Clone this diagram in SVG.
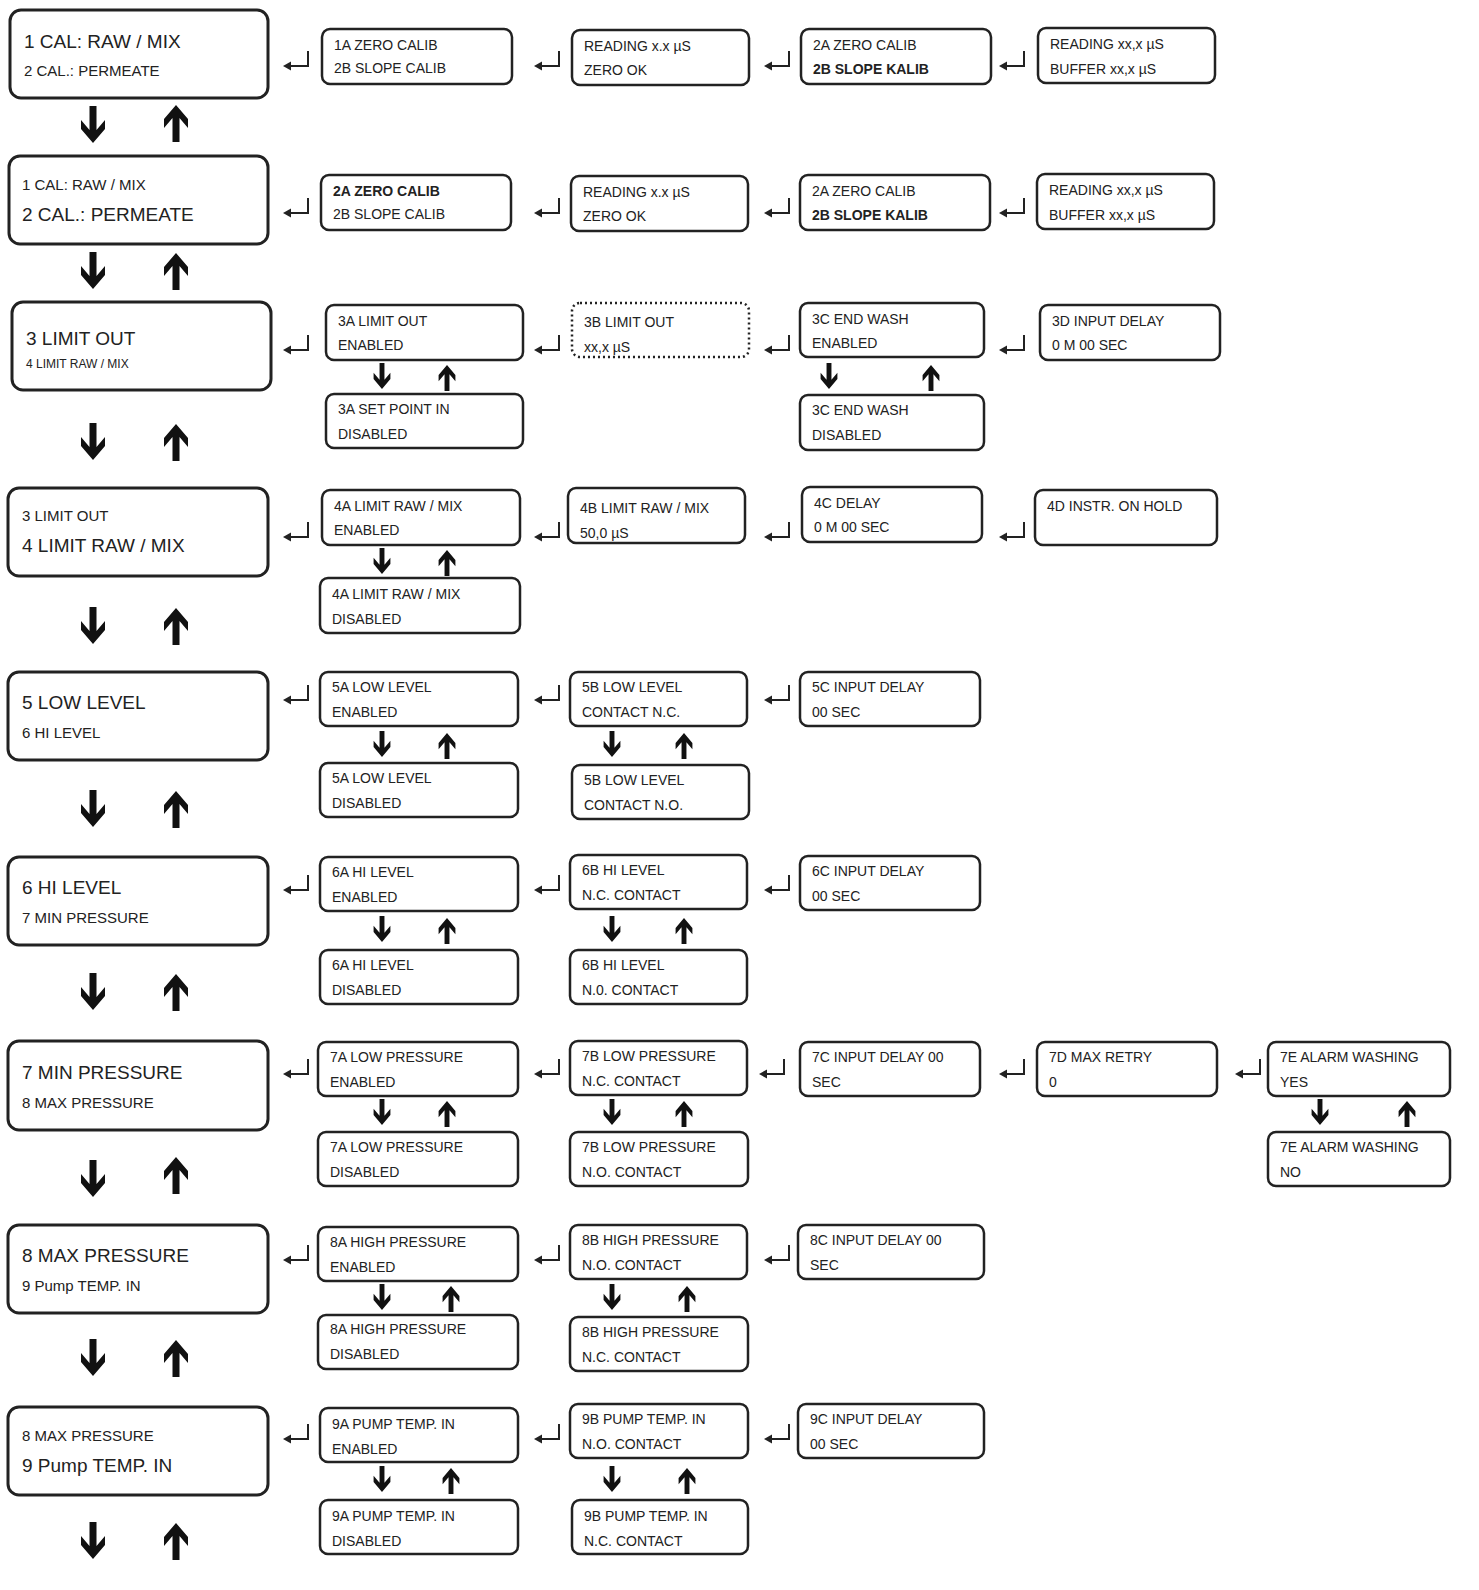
<svg xmlns="http://www.w3.org/2000/svg" width="1479" height="1590" viewBox="0 0 1479 1590">
<style>
.m{fill:#fff;stroke:#222;stroke-width:3}
.b{fill:#fff;stroke:#222;stroke-width:2.5}
.d{fill:#fff;stroke:#222;stroke-width:2.5;stroke-dasharray:2 3}
text{font-family:"Liberation Sans",Arial,sans-serif;fill:#222}
.L{font-size:19px}
.S{font-size:15px}
.t{font-size:14px}
</style>
<defs>
<path id="dn" d="M-3.5,-20 H3.5 V4 L12,-6 V3 L0,17 L-12,3 V-6 L-3.5,4 Z" fill="#111"/>
<path id="up" d="M-3.5,20 H3.5 V-4 L12,6 V-3 L0,-17 L-12,-3 V6 L-3.5,-4 Z" fill="#111"/>
<g id="en"><path d="M12,-9 V6 H-8" fill="none" stroke="#222" stroke-width="2"/><path d="M-13,6 L-5,1.5 V10.5 Z" fill="#222"/></g>
</defs>

<g id="connectors">
<!-- main arrows -->
<use href="#dn" x="93" y="126"/><use href="#up" x="176" y="122"/>
<use href="#dn" x="93" y="272"/><use href="#up" x="176" y="270"/>
<use href="#dn" x="93" y="443"/><use href="#up" x="176" y="441"/>
<use href="#dn" x="93" y="627"/><use href="#up" x="176" y="625"/>
<use href="#dn" x="93" y="810"/><use href="#up" x="176" y="808"/>
<use href="#dn" x="93" y="993"/><use href="#up" x="176" y="991"/>
<use href="#dn" x="93" y="1180"/><use href="#up" x="176" y="1174"/>
<use href="#dn" x="93" y="1359"/><use href="#up" x="176" y="1357"/>
<use href="#dn" x="93" y="1542"/><use href="#up" x="176" y="1540"/>
<!-- small arrows -->
<g transform="translate(382,377) scale(0.7)"><use href="#dn"/></g><g transform="translate(447,377) scale(0.7)"><use href="#up"/></g>
<g transform="translate(829,377) scale(0.7)"><use href="#dn"/></g><g transform="translate(931,377) scale(0.7)"><use href="#up"/></g>
<g transform="translate(382,562) scale(0.7)"><use href="#dn"/></g><g transform="translate(447,562) scale(0.7)"><use href="#up"/></g>
<g transform="translate(382,745) scale(0.7)"><use href="#dn"/></g><g transform="translate(447,745) scale(0.7)"><use href="#up"/></g>
<g transform="translate(612,745) scale(0.7)"><use href="#dn"/></g><g transform="translate(684,745) scale(0.7)"><use href="#up"/></g>
<g transform="translate(382,930) scale(0.7)"><use href="#dn"/></g><g transform="translate(447,930) scale(0.7)"><use href="#up"/></g>
<g transform="translate(612,930) scale(0.7)"><use href="#dn"/></g><g transform="translate(684,930) scale(0.7)"><use href="#up"/></g>
<g transform="translate(382,1113) scale(0.7)"><use href="#dn"/></g><g transform="translate(447,1113) scale(0.7)"><use href="#up"/></g>
<g transform="translate(612,1113) scale(0.7)"><use href="#dn"/></g><g transform="translate(684,1113) scale(0.7)"><use href="#up"/></g>
<g transform="translate(1320,1113) scale(0.7)"><use href="#dn"/></g><g transform="translate(1407,1113) scale(0.7)"><use href="#up"/></g>
<g transform="translate(382,1298) scale(0.7)"><use href="#dn"/></g><g transform="translate(451,1298) scale(0.7)"><use href="#up"/></g>
<g transform="translate(612,1298) scale(0.7)"><use href="#dn"/></g><g transform="translate(687,1298) scale(0.7)"><use href="#up"/></g>
<g transform="translate(382,1480) scale(0.7)"><use href="#dn"/></g><g transform="translate(451,1480) scale(0.7)"><use href="#up"/></g>
<g transform="translate(612,1480) scale(0.7)"><use href="#dn"/></g><g transform="translate(687,1480) scale(0.7)"><use href="#up"/></g>
<!-- enter symbols -->
<use href="#en" x="296" y="60"/><use href="#en" x="547" y="60"/><use href="#en" x="777" y="60"/><use href="#en" x="1012" y="60"/>
<use href="#en" x="296" y="207"/><use href="#en" x="547" y="207"/><use href="#en" x="777" y="207"/><use href="#en" x="1012" y="207"/>
<use href="#en" x="296" y="344"/><use href="#en" x="547" y="344"/><use href="#en" x="777" y="344"/><use href="#en" x="1012" y="344"/>
<use href="#en" x="296" y="531"/><use href="#en" x="547" y="531"/><use href="#en" x="777" y="531"/><use href="#en" x="1012" y="531"/>
<use href="#en" x="296" y="694"/><use href="#en" x="547" y="694"/><use href="#en" x="777" y="694"/>
<use href="#en" x="296" y="884"/><use href="#en" x="547" y="884"/><use href="#en" x="777" y="884"/>
<use href="#en" x="296" y="1068"/><use href="#en" x="547" y="1068"/><use href="#en" x="772" y="1068"/><use href="#en" x="1012" y="1068"/><use href="#en" x="1248" y="1068"/>
<use href="#en" x="296" y="1254"/><use href="#en" x="547" y="1254"/><use href="#en" x="777" y="1254"/>
<use href="#en" x="296" y="1433"/><use href="#en" x="547" y="1433"/><use href="#en" x="777" y="1433"/>
</g>

<!-- Row 1 -->
<g id="m1"><rect class="m" x="10" y="10" width="258" height="88" rx="11"/><text class="L" x="24" y="48">1 CAL: RAW / MIX</text><text class="S" x="24" y="76">2 CAL.: PERMEATE</text></g>
<g id="n1a"><rect class="b" x="322" y="29" width="190" height="55" rx="8"/><text class="t" x="334" y="50">1A ZERO CALIB</text><text class="t" x="334" y="73">2B SLOPE CALIB</text></g>
<g id="n1b"><rect class="b" x="572" y="30" width="177" height="55" rx="8"/><text class="t" x="584" y="51">READING x.x µS</text><text class="t" x="584" y="75">ZERO OK</text></g>
<g id="n1c"><rect class="b" x="801" y="29" width="190" height="55" rx="8"/><text class="t" x="813" y="50">2A ZERO CALIB</text><text class="t" x="813" y="74" font-weight="bold">2B SLOPE KALIB</text></g>
<g id="n1d"><rect class="b" x="1038" y="28" width="177" height="55" rx="8"/><text class="t" x="1050" y="49">READING xx,x µS</text><text class="t" x="1050" y="74">BUFFER xx,x µS</text></g>

<!-- Row 2 -->
<g id="m2"><rect class="m" x="9" y="156" width="259" height="88" rx="11"/><text class="S" x="22" y="190">1 CAL: RAW / MIX</text><text class="L" x="22" y="221">2 CAL.: PERMEATE</text></g>
<g id="n2a"><rect class="b" x="321" y="175" width="190" height="55" rx="8"/><text class="t" x="333" y="196" font-weight="bold">2A ZERO CALIB</text><text class="t" x="333" y="219">2B SLOPE CALIB</text></g>
<g id="n2b"><rect class="b" x="571" y="176" width="177" height="55" rx="8"/><text class="t" x="583" y="197">READING x.x µS</text><text class="t" x="583" y="221">ZERO OK</text></g>
<g id="n2c"><rect class="b" x="800" y="175" width="190" height="55" rx="8"/><text class="t" x="812" y="196">2A ZERO CALIB</text><text class="t" x="812" y="220" font-weight="bold">2B SLOPE KALIB</text></g>
<g id="n2d"><rect class="b" x="1037" y="174" width="177" height="55" rx="8"/><text class="t" x="1049" y="195">READING xx,x µS</text><text class="t" x="1049" y="220">BUFFER xx,x µS</text></g>

<!-- Row 3 -->
<g id="m3"><rect class="m" x="12" y="302" width="259" height="88" rx="11"/><text class="L" x="26" y="345">3 LIMIT OUT</text><text x="26" y="368" font-size="12">4 LIMIT RAW / MIX</text></g>
<g id="n3a"><rect class="b" x="326" y="305" width="197" height="55" rx="8"/><text class="t" x="338" y="326">3A LIMIT OUT</text><text class="t" x="338" y="350">ENABLED</text></g>
<g id="n3b"><rect class="d" x="572" y="303" width="177" height="54" rx="8"/><text class="t" x="584" y="327">3B LIMIT OUT</text><text class="t" x="584" y="352">xx,x µS</text></g>
<g id="n3c"><rect class="b" x="800" y="303" width="184" height="54" rx="8"/><text class="t" x="812" y="324">3C END WASH</text><text class="t" x="812" y="348">ENABLED</text></g>
<g id="n3d"><rect class="b" x="1040" y="305" width="180" height="55" rx="8"/><text class="t" x="1052" y="326">3D INPUT DELAY</text><text class="t" x="1052" y="350">0 M 00 SEC</text></g>
<g id="n3a2"><rect class="b" x="326" y="394" width="197" height="54" rx="8"/><text class="t" x="338" y="414">3A SET POINT IN</text><text class="t" x="338" y="439">DISABLED</text></g>
<g id="n3c2"><rect class="b" x="800" y="395" width="184" height="55" rx="8"/><text class="t" x="812" y="415">3C END WASH</text><text class="t" x="812" y="440">DISABLED</text></g>

<!-- Row 4 -->
<g id="m4"><rect class="m" x="8" y="488" width="260" height="88" rx="11"/><text class="S" x="22" y="521">3 LIMIT OUT</text><text class="L" x="22" y="552">4 LIMIT RAW / MIX</text></g>
<g id="n4a"><rect class="b" x="322" y="490" width="198" height="55" rx="8"/><text class="t" x="334" y="511">4A LIMIT RAW / MIX</text><text class="t" x="334" y="535">ENABLED</text></g>
<g id="n4b"><rect class="b" x="568" y="488" width="177" height="55" rx="8"/><text class="t" x="580" y="513">4B LIMIT RAW / MIX</text><text class="t" x="580" y="538">50,0 µS</text></g>
<g id="n4c"><rect class="b" x="802" y="487" width="180" height="55" rx="8"/><text class="t" x="814" y="508">4C DELAY</text><text class="t" x="814" y="532">0 M 00 SEC</text></g>
<g id="n4d"><rect class="b" x="1035" y="490" width="182" height="55" rx="8"/><text class="t" x="1047" y="511">4D INSTR. ON HOLD</text></g>
<g id="n4a2"><rect class="b" x="320" y="578" width="200" height="55" rx="8"/><text class="t" x="332" y="599">4A LIMIT RAW / MIX</text><text class="t" x="332" y="624">DISABLED</text></g>

<!-- Row 5 -->
<g id="m5"><rect class="m" x="8" y="672" width="260" height="88" rx="11"/><text class="L" x="22" y="709">5 LOW LEVEL</text><text class="S" x="22" y="738">6 HI LEVEL</text></g>
<g id="n5a"><rect class="b" x="320" y="672" width="198" height="54" rx="8"/><text class="t" x="332" y="692">5A LOW LEVEL</text><text class="t" x="332" y="717">ENABLED</text></g>
<g id="n5b"><rect class="b" x="570" y="672" width="177" height="54" rx="8"/><text class="t" x="582" y="692">5B LOW LEVEL</text><text class="t" x="582" y="717">CONTACT N.C.</text></g>
<g id="n5c"><rect class="b" x="800" y="672" width="180" height="54" rx="8"/><text class="t" x="812" y="692">5C INPUT DELAY</text><text class="t" x="812" y="717">00 SEC</text></g>
<g id="n5a2"><rect class="b" x="320" y="763" width="198" height="54" rx="8"/><text class="t" x="332" y="783">5A LOW LEVEL</text><text class="t" x="332" y="808">DISABLED</text></g>
<g id="n5b2"><rect class="b" x="572" y="765" width="177" height="54" rx="8"/><text class="t" x="584" y="785">5B LOW LEVEL</text><text class="t" x="584" y="810">CONTACT N.O.</text></g>

<!-- Row 6 -->
<g id="m6"><rect class="m" x="8" y="857" width="260" height="88" rx="11"/><text class="L" x="22" y="894">6 HI LEVEL</text><text class="S" x="22" y="923">7 MIN PRESSURE</text></g>
<g id="n6a"><rect class="b" x="320" y="857" width="198" height="54" rx="8"/><text class="t" x="332" y="877">6A HI LEVEL</text><text class="t" x="332" y="902">ENABLED</text></g>
<g id="n6b"><rect class="b" x="570" y="855" width="177" height="54" rx="8"/><text class="t" x="582" y="875">6B HI LEVEL</text><text class="t" x="582" y="900">N.C. CONTACT</text></g>
<g id="n6c"><rect class="b" x="800" y="856" width="180" height="54" rx="8"/><text class="t" x="812" y="876">6C INPUT DELAY</text><text class="t" x="812" y="901">00 SEC</text></g>
<g id="n6a2"><rect class="b" x="320" y="950" width="198" height="54" rx="8"/><text class="t" x="332" y="970">6A HI LEVEL</text><text class="t" x="332" y="995">DISABLED</text></g>
<g id="n6b2"><rect class="b" x="570" y="950" width="177" height="54" rx="8"/><text class="t" x="582" y="970">6B HI LEVEL</text><text class="t" x="582" y="995">N.0. CONTACT</text></g>

<!-- Row 7 -->
<g id="m7"><rect class="m" x="8" y="1041" width="260" height="89" rx="11"/><text class="L" x="22" y="1079">7 MIN PRESSURE</text><text class="S" x="22" y="1108">8 MAX PRESSURE</text></g>
<g id="n7a"><rect class="b" x="318" y="1042" width="200" height="54" rx="8"/><text class="t" x="330" y="1062">7A LOW PRESSURE</text><text class="t" x="330" y="1087">ENABLED</text></g>
<g id="n7b"><rect class="b" x="570" y="1041" width="177" height="54" rx="8"/><text class="t" x="582" y="1061">7B LOW PRESSURE</text><text class="t" x="582" y="1086">N.C. CONTACT</text></g>
<g id="n7c"><rect class="b" x="800" y="1042" width="180" height="54" rx="8"/><text class="t" x="812" y="1062">7C INPUT DELAY 00</text><text class="t" x="812" y="1087">SEC</text></g>
<g id="n7d"><rect class="b" x="1037" y="1042" width="180" height="54" rx="8"/><text class="t" x="1049" y="1062">7D MAX RETRY</text><text class="t" x="1049" y="1087">0</text></g>
<g id="n7e"><rect class="b" x="1268" y="1042" width="182" height="54" rx="8"/><text class="t" x="1280" y="1062">7E ALARM WASHING</text><text class="t" x="1280" y="1087">YES</text></g>
<g id="n7a2"><rect class="b" x="318" y="1132" width="200" height="54" rx="8"/><text class="t" x="330" y="1152">7A LOW PRESSURE</text><text class="t" x="330" y="1177">DISABLED</text></g>
<g id="n7b2"><rect class="b" x="570" y="1132" width="178" height="54" rx="8"/><text class="t" x="582" y="1152">7B LOW PRESSURE</text><text class="t" x="582" y="1177">N.O. CONTACT</text></g>
<g id="n7e2"><rect class="b" x="1268" y="1132" width="182" height="54" rx="8"/><text class="t" x="1280" y="1152">7E ALARM WASHING</text><text class="t" x="1280" y="1177">NO</text></g>

<!-- Row 8 -->
<g id="m8"><rect class="m" x="8" y="1225" width="260" height="88" rx="11"/><text class="L" x="22" y="1262">8 MAX PRESSURE</text><text class="S" x="22" y="1291">9  Pump TEMP. IN</text></g>
<g id="n8a"><rect class="b" x="318" y="1227" width="200" height="54" rx="8"/><text class="t" x="330" y="1247">8A HIGH PRESSURE</text><text class="t" x="330" y="1272">ENABLED</text></g>
<g id="n8b"><rect class="b" x="570" y="1225" width="177" height="54" rx="8"/><text class="t" x="582" y="1245">8B HIGH PRESSURE</text><text class="t" x="582" y="1270">N.O. CONTACT</text></g>
<g id="n8c"><rect class="b" x="798" y="1225" width="186" height="54" rx="8"/><text class="t" x="810" y="1245">8C INPUT DELAY      00</text><text class="t" x="810" y="1270">SEC</text></g>
<g id="n8a2"><rect class="b" x="318" y="1315" width="200" height="54" rx="8"/><text class="t" x="330" y="1334">8A HIGH PRESSURE</text><text class="t" x="330" y="1359">DISABLED</text></g>
<g id="n8b2"><rect class="b" x="570" y="1317" width="178" height="54" rx="8"/><text class="t" x="582" y="1337">8B HIGH PRESSURE</text><text class="t" x="582" y="1362">N.C. CONTACT</text></g>

<!-- Row 9 -->
<g id="m9"><rect class="m" x="8" y="1407" width="260" height="88" rx="11"/><text class="S" x="22" y="1441">8 MAX PRESSURE</text><text class="L" x="22" y="1472">9  Pump TEMP. IN</text></g>
<g id="n9a"><rect class="b" x="320" y="1408" width="198" height="54" rx="8"/><text class="t" x="332" y="1429">9A PUMP TEMP. IN</text><text class="t" x="332" y="1454">ENABLED</text></g>
<g id="n9b"><rect class="b" x="570" y="1404" width="178" height="54" rx="8"/><text class="t" x="582" y="1424">9B PUMP TEMP. IN</text><text class="t" x="582" y="1449">N.O. CONTACT</text></g>
<g id="n9c"><rect class="b" x="798" y="1404" width="186" height="54" rx="8"/><text class="t" x="810" y="1424">9C INPUT DELAY</text><text class="t" x="810" y="1449">00 SEC</text></g>
<g id="n9a2"><rect class="b" x="320" y="1500" width="198" height="54" rx="8"/><text class="t" x="332" y="1521">9A PUMP TEMP. IN</text><text class="t" x="332" y="1546">DISABLED</text></g>
<g id="n9b2"><rect class="b" x="572" y="1500" width="176" height="54" rx="8"/><text class="t" x="584" y="1521">9B PUMP TEMP. IN</text><text class="t" x="584" y="1546">N.C. CONTACT</text></g>
</svg>
